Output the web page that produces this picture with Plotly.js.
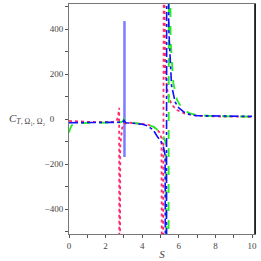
<!DOCTYPE html>
<html>
<head>
<meta charset="utf-8">
<script src="https://cdn.plot.ly/plotly-3.0.1.min.js"></script>
<style>html,body{margin:0;padding:0;background:#fff;}#chart{width:261px;height:261px;}</style>
</head>
<body>
<div id="chart"></div>
<script>
// Pink dotted curve
const pinkX = [0, 0.3, 0.6, 1, 1.5, 2, 2.4, 2.6, 2.68, 2.74, 2.76, 2.8, 2.9, 3.0, 3.3, 3.6, 4, 4.3, 4.6, 4.8, 4.95, 5.05, 5.12, 5.18, 5.25, 5.4, 5.6, 5.9, 6.3, 7, 8, 9, 10];
const pinkY = [-8, -10, -11, -12, -13, -13, -12, -8, 10, 50, -1500, -120, -40, -20, -16, -18, -20, -24, -33, -45, -60, -85, -2000, 900, 220, 110, 65, 40, 25, 15, 12, 11, 10];
// Green dashed curve
const greenX = [0, 0.05, 0.15, 0.3, 0.6, 1, 1.5, 2, 2.5, 2.8, 2.95, 3.0, 3.05, 3.1, 3.3, 3.6, 4, 4.3, 4.6, 4.8, 5.0, 5.15, 5.3, 5.42, 5.47, 5.55, 5.7, 5.9, 6.2, 6.6, 7, 8, 9, 10];
const greenY = [-60, -45, -28, -20, -18, -17, -17, -16, -15, -14, -10, 0, -5, -12, -15, -17, -20, -25, -33, -45, -58, -75, -110, -2000, 2000, 350, 160, 85, 45, 25, 18, 13, 12, 11];
// Blue dash-dot curve
const blueX = [0, 0.5, 1, 1.5, 2, 2.5, 2.8, 2.95, 3.0, 3.05, 3.1, 3.3, 3.6, 4, 4.3, 4.6, 4.84, 5.0, 5.15, 5.25, 5.31, 5.35, 5.45, 5.6, 5.8, 6.0, 6.3, 6.7, 7, 8, 9, 10];
const blueY = [-16, -16, -16, -16, -16, -16, -16, -14, -5, -12, -16, -17, -19, -23, -30, -48, -79, -95, -120, -160, -2000, 2000, 400, 150, 75, 50, 30, 18, 15, 13, 12, 12];
// Light blue solid spike
const spikeX = [3.03, 3.03];
const spikeY = [435, -168];

const xTickVals = [0, 2, 4, 6, 8, 10];
const xTickText = ['0', '2', '4', '6', '8', '10'];
const yTickVals = [-400, -200, 0, 200, 400];
const yTickText = ['\u2212400', '\u2212200', '0\u2007\u2007', '200', '400'];

const traces = [
  {x: spikeX, y: spikeY, mode: 'lines', line: {color: '#7b7bff', width: 2.5}},
  {x: pinkX, y: pinkY, mode: 'lines', line: {color: '#ff2a6a', width: 1.8, dash: 'dot'}},
  {x: greenX, y: greenY, mode: 'lines', line: {color: '#22ee22', width: 1.8, dash: 'dash'}},
  {x: blueX, y: blueY, mode: 'lines', line: {color: '#1010ff', width: 1.6, dash: 'dashdot'}}
];

const tickFont = {family: 'Liberation Serif', size: 9, color: '#444'};
const layout = {
  width: 261, height: 261,
  margin: {l: 69, r: 6, t: 4, b: 27},
  paper_bgcolor: '#fff', plot_bgcolor: '#fff',
  showlegend: false,
  xaxis: {
    range: [0, 10.16], tickmode: 'array', tickvals: xTickVals, ticktext: xTickText,
    ticks: 'outside', ticklen: 3, tickcolor: '#555', tickfont: tickFont,
    minor: {tickmode: 'linear', tick0: 0, dtick: 1, ticks: 'outside', ticklen: 3, tickcolor: '#555', showgrid: false},
    showline: true, linecolor: '#777', linewidth: 1, mirror: true,
    showgrid: false, zeroline: false,
    title: {text: '<i>S</i>', font: {family: 'Liberation Serif', size: 11, color: '#444'}, standoff: 0}
  },
  yaxis: {
    range: [-510, 511], tickmode: 'array', tickvals: yTickVals, ticktext: yTickText,
    ticks: 'outside', ticklen: 3, tickcolor: '#555', tickfont: tickFont,
    minor: {tickmode: 'linear', tick0: 0, dtick: 100, ticks: 'outside', ticklen: 3, tickcolor: '#555', showgrid: false},
    showline: true, linecolor: '#777', linewidth: 1, mirror: true,
    showgrid: false, zeroline: false
  },
  shapes: [
    {type: 'line', xref: 'paper', yref: 'paper', x0: 1, x1: 1, y0: 0, y1: 1, line: {color: '#000', width: 1.5}}
  ],
  annotations: [
    {xref: 'paper', yref: 'y', x: -0.335, y: 0, xanchor: 'left', yanchor: 'middle', showarrow: false,
     text: '<i>C</i><sub><i>T</i>, Ω₁, Ω₂</sub>', font: {family: 'Liberation Serif', size: 11, color: '#444'}}
  ]
};
Plotly.newPlot('chart', traces, layout, {staticPlot: true, displayModeBar: false});
</script>
</body>
</html>
